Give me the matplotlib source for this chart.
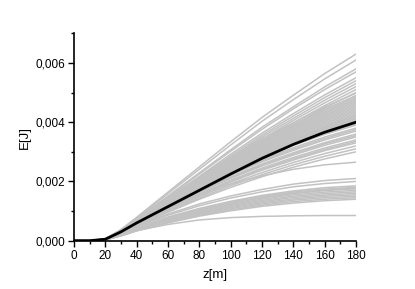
import matplotlib
matplotlib.use("Agg")
import matplotlib.pyplot as plt
from matplotlib.ticker import MultipleLocator, FuncFormatter

# z positions (m) at which curve values were read
z_nodes = [0, 10, 20, 30, 40, 60, 80, 100, 120, 140, 160, 180]

# gray curves, energy in mJ (1e-3 J)
gray_curves_mJ = [
    [0, 0, 0.06, 0.38, 0.79, 1.64, 2.49, 3.34, 4.16, 4.91, 5.64, 6.30],
    [0, 0, 0.06, 0.37, 0.76, 1.59, 2.41, 3.23, 4.03, 4.76, 5.46, 6.10],
    [0, 0, 0.06, 0.35, 0.73, 1.51, 2.29, 3.07, 3.83, 4.52, 5.19, 5.80],
    [0, 0, 0.06, 0.34, 0.71, 1.48, 2.25, 3.02, 3.76, 4.45, 5.10, 5.70],
    [0, 0, 0.06, 0.33, 0.69, 1.43, 2.17, 2.92, 3.63, 4.29, 4.92, 5.50],
    [0, 0, 0.05, 0.32, 0.68, 1.40, 2.13, 2.86, 3.56, 4.21, 4.83, 5.40],
    [0, 0, 0.05, 0.32, 0.66, 1.38, 2.09, 2.81, 3.50, 4.13, 4.74, 5.30],
    [0, 0, 0.05, 0.31, 0.65, 1.35, 2.05, 2.76, 3.43, 4.06, 4.65, 5.20],
    [0, 0, 0.05, 0.31, 0.64, 1.33, 2.01, 2.70, 3.37, 3.98, 4.56, 5.10],
    [0, 0, 0.06, 0.35, 0.72, 1.44, 2.14, 2.81, 3.44, 3.98, 4.51, 4.98],
    [0, 0, 0.05, 0.30, 0.63, 1.30, 1.98, 2.65, 3.30, 3.90, 4.48, 5.00],
    [0, 0, 0.06, 0.34, 0.71, 1.42, 2.11, 2.77, 3.38, 3.92, 4.43, 4.90],
    [0, 0, 0.06, 0.34, 0.70, 1.41, 2.09, 2.74, 3.35, 3.88, 4.39, 4.85],
    [0, 0, 0.06, 0.34, 0.70, 1.39, 2.06, 2.71, 3.31, 3.84, 4.34, 4.80],
    [0, 0, 0.06, 0.33, 0.69, 1.38, 2.04, 2.68, 3.28, 3.80, 4.30, 4.75],
    [0, 0, 0.06, 0.33, 0.68, 1.36, 2.02, 2.66, 3.24, 3.76, 4.25, 4.70],
    [0, 0, 0.06, 0.33, 0.67, 1.35, 2.00, 2.63, 3.21, 3.72, 4.21, 4.65],
    [0, 0, 0.06, 0.32, 0.67, 1.33, 1.98, 2.60, 3.17, 3.68, 4.16, 4.60],
    [0, 0, 0.05, 0.32, 0.66, 1.32, 1.96, 2.57, 3.14, 3.64, 4.12, 4.55],
    [0, 0, 0.05, 0.32, 0.65, 1.31, 1.94, 2.54, 3.11, 3.60, 4.07, 4.50],
    [0, 0, 0.05, 0.31, 0.65, 1.29, 1.91, 2.51, 3.07, 3.56, 4.03, 4.45],
    [0, 0, 0.05, 0.31, 0.64, 1.28, 1.89, 2.49, 3.04, 3.52, 3.98, 4.40],
    [0, 0, 0.05, 0.30, 0.63, 1.26, 1.87, 2.46, 3.00, 3.48, 3.94, 4.35],
    [0, 0, 0.05, 0.30, 0.62, 1.25, 1.85, 2.43, 2.97, 3.44, 3.89, 4.30],
    [0, 0, 0.05, 0.30, 0.62, 1.23, 1.83, 2.40, 2.93, 3.40, 3.85, 4.25],
    [0, 0, 0.05, 0.30, 0.61, 1.22, 1.81, 2.38, 2.91, 3.38, 3.82, 4.22],
    [0, 0, 0.05, 0.29, 0.61, 1.22, 1.81, 2.37, 2.90, 3.36, 3.80, 4.20],
    [0, 0, 0.05, 0.29, 0.60, 1.20, 1.78, 2.34, 2.86, 3.32, 3.76, 4.15],
    [0, 0, 0.05, 0.29, 0.60, 1.19, 1.77, 2.33, 2.84, 3.30, 3.73, 4.12],
    [0, 0, 0.05, 0.29, 0.59, 1.19, 1.76, 2.32, 2.83, 3.28, 3.71, 4.10],
    [0, 0, 0.05, 0.28, 0.59, 1.17, 1.74, 2.29, 2.79, 3.24, 3.67, 4.05],
    [0, 0, 0.06, 0.32, 0.65, 1.26, 1.84, 2.37, 2.84, 3.26, 3.63, 3.95],
    [0, 0, 0.06, 0.31, 0.64, 1.25, 1.81, 2.34, 2.81, 3.22, 3.59, 3.90],
    [0, 0, 0.06, 0.30, 0.63, 1.22, 1.77, 2.28, 2.74, 3.14, 3.50, 3.80],
    [0, 0, 0.06, 0.30, 0.62, 1.20, 1.74, 2.25, 2.70, 3.09, 3.45, 3.75],
    [0, 0, 0.06, 0.30, 0.61, 1.18, 1.72, 2.22, 2.66, 3.05, 3.40, 3.70],
    [0, 0, 0.05, 0.29, 0.59, 1.15, 1.67, 2.16, 2.59, 2.97, 3.31, 3.60],
    [0, 0, 0.05, 0.28, 0.59, 1.14, 1.65, 2.13, 2.56, 2.93, 3.27, 3.55],
    [0, 0, 0.05, 0.28, 0.58, 1.12, 1.63, 2.10, 2.52, 2.89, 3.22, 3.50],
    [0, 0, 0.05, 0.27, 0.56, 1.09, 1.58, 2.04, 2.45, 2.81, 3.13, 3.40],
    [0, 0, 0.05, 0.27, 0.55, 1.07, 1.56, 2.01, 2.41, 2.76, 3.08, 3.35],
    [0, 0, 0.05, 0.26, 0.54, 1.06, 1.53, 1.98, 2.38, 2.72, 3.04, 3.30],
    [0, 0, 0.05, 0.26, 0.53, 1.02, 1.49, 1.92, 2.30, 2.64, 2.94, 3.20],
    [0, 0, 0.05, 0.25, 0.51, 0.99, 1.44, 1.86, 2.23, 2.56, 2.85, 3.10],
    [0, 0, 0.05, 0.24, 0.50, 0.96, 1.40, 1.80, 2.16, 2.48, 2.76, 3.00],
    [0, 0, 0.05, 0.30, 0.62, 1.14, 1.56, 1.91, 2.19, 2.41, 2.56, 2.65],
    [0, 0, 0.04, 0.24, 0.49, 0.90, 1.24, 1.51, 1.73, 1.91, 2.03, 2.10],
    [0, 0, 0.04, 0.23, 0.47, 0.86, 1.18, 1.44, 1.65, 1.82, 1.93, 2.00],
    [0, 0, 0.04, 0.21, 0.43, 0.80, 1.09, 1.33, 1.53, 1.68, 1.79, 1.85],
    [0, 0, 0.04, 0.21, 0.42, 0.77, 1.06, 1.30, 1.49, 1.64, 1.74, 1.80],
    [0, 0, 0.04, 0.20, 0.42, 0.77, 1.05, 1.28, 1.47, 1.62, 1.72, 1.78],
    [0, 0, 0.04, 0.20, 0.41, 0.75, 1.03, 1.26, 1.44, 1.59, 1.69, 1.75],
    [0, 0, 0.03, 0.20, 0.40, 0.73, 1.00, 1.22, 1.40, 1.55, 1.64, 1.70],
    [0, 0, 0.03, 0.19, 0.39, 0.71, 0.97, 1.19, 1.36, 1.50, 1.59, 1.65],
    [0, 0, 0.03, 0.18, 0.38, 0.69, 0.94, 1.15, 1.32, 1.46, 1.54, 1.60],
    [0, 0, 0.03, 0.18, 0.36, 0.67, 0.91, 1.12, 1.28, 1.41, 1.50, 1.55],
    [0, 0, 0.03, 0.17, 0.35, 0.65, 0.89, 1.08, 1.24, 1.37, 1.45, 1.50],
    [0, 0, 0.03, 0.17, 0.34, 0.62, 0.86, 1.04, 1.20, 1.32, 1.40, 1.45],
    [0, 0, 0.03, 0.16, 0.33, 0.60, 0.83, 1.01, 1.16, 1.27, 1.35, 1.40],
    [0, 0, 0.03, 0.17, 0.34, 0.55, 0.70, 0.78, 0.82, 0.84, 0.85, 0.85],
]

# mean curve, mJ
mean_curve_mJ = [0, 0, 0.05, 0.30, 0.60, 1.15, 1.70, 2.25, 2.78, 3.25, 3.66, 4.00]

x_ticks = [0, 20, 40, 60, 80, 100, 120, 140, 160, 180]
y_ticks = [0.000, 0.002, 0.004, 0.006]

plt.rcParams['font.family'] = ['Liberation Sans', 'DejaVu Sans']

fig = plt.figure(figsize=(4.15, 2.89), dpi=100)
ax = fig.add_axes([74/415, 1-240.7/289, (356-74)/415, (240.7-33.3)/289])

for c in gray_curves_mJ:
    ax.plot(z_nodes, [v * 1e-3 for v in c], color='#c2c2c2', lw=1.1,
            solid_joinstyle='round', zorder=2)
ax.plot(z_nodes, [v * 1e-3 for v in mean_curve_mJ], color='black', lw=2.0,
        solid_joinstyle='round', zorder=3)

ax.set_xlim(0, 180)
ax.set_ylim(0, 0.0070)
ax.set_xticks(x_ticks)
ax.set_yticks(y_ticks)
ax.xaxis.set_minor_locator(MultipleLocator(10))
ax.yaxis.set_minor_locator(MultipleLocator(0.001))
ax.yaxis.set_major_formatter(FuncFormatter(lambda v, p: f"{v:.3f}".replace('.', ',')))

for s in ['top', 'right']:
    ax.spines[s].set_visible(False)
for s in ['left', 'bottom']:
    ax.spines[s].set_linewidth(1.2)

ax.tick_params(which='major', direction='out', length=4, width=1, labelsize=8.5, pad=2.5)
ax.tick_params(which='minor', direction='out', length=2.5, width=1)

ax.set_xlabel('z[m]', fontsize=9.5, labelpad=5)
ax.set_ylabel('E[J]', fontsize=9.5, labelpad=3)

fig.savefig('out.png', dpi=100)
